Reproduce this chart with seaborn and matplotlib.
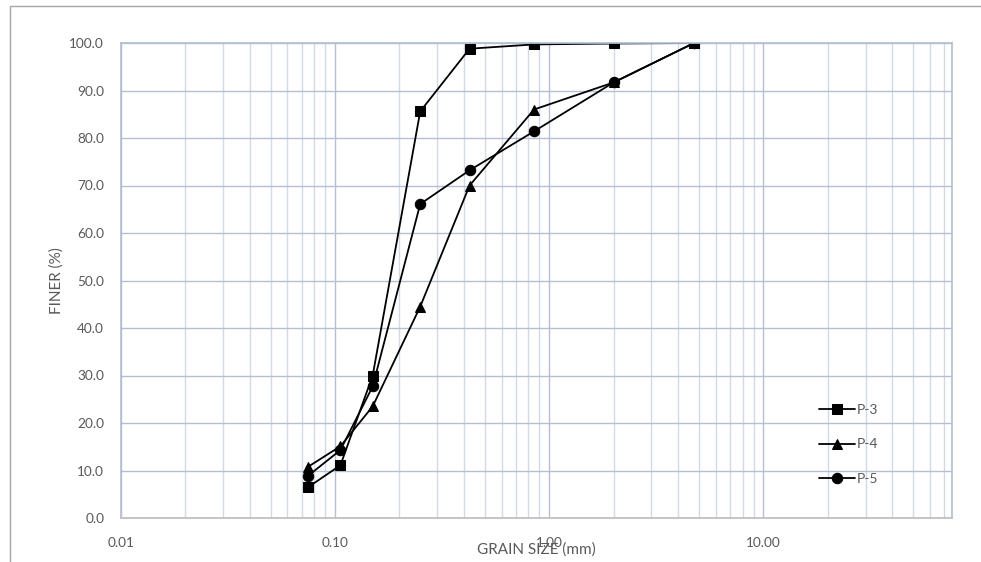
import matplotlib
matplotlib.use("Agg")
import matplotlib.pyplot as plt
import seaborn as sns
import pandas as pd
import numpy as np
from matplotlib.ticker import FixedLocator, LogLocator, NullFormatter, FuncFormatter
from matplotlib.patches import Rectangle

sizes = [0.075, 0.106, 0.15, 0.25, 0.425, 0.85, 2.0, 4.75]
p3 = [6.5, 11.1, 30.0, 85.6, 98.8, 99.7, 99.9, 100.0]
p4 = [10.8, 15.1, 23.5, 44.5, 70.0, 86.0, 91.7, 100.0]
p5 = [8.9, 14.3, 27.7, 66.1, 73.2, 81.4, 91.7, 100.0]
series_names = ["P-3", "P-4", "P-5"]
y_ticks = [0, 10, 20, 30, 40, 50, 60, 70, 80, 90, 100]
x_major = [0.01, 0.1, 1.0, 10.0]

df = pd.concat([
    pd.DataFrame({"size": sizes, "finer": v, "sample": n})
    for n, v in zip(series_names, [p3, p4, p5])
], ignore_index=True)

sns.set_theme(style="white")
plt.rcParams['font.family'] = ['Lato', 'DejaVu Sans']

fig = plt.figure(figsize=(9.81, 5.62), dpi=100)
ax = fig.add_axes([120.8/981, 1-518/562, (952-120.8)/981, (518-43)/562])

# outer frame
fig.patches.append(Rectangle((10/981, -0.1), 1.2, 1-6/562+0.1, transform=fig.transFigure,
                             fill=False, edgecolor="#a6a6a6", linewidth=1.0))

sns.lineplot(data=df, x="size", y="finer", style="sample", markers=["s", "^", "o"],
             dashes=False, color="black", sort=False, linewidth=1.3,
             markersize=7.5, markeredgecolor="black", ax=ax)

ax.set_xscale("log")
ax.set_xlim(0.01, 76)
ax.set_ylim(0, 100)
ax.set_yticks(y_ticks)
ax.yaxis.set_major_formatter(FuncFormatter(lambda v, p: f"{v:.1f}"))
ax.xaxis.set_major_locator(FixedLocator(x_major))
ax.xaxis.set_major_formatter(FuncFormatter(lambda v, p: f"{v:.2f}"))
ax.xaxis.set_minor_locator(LogLocator(base=10, subs=np.arange(2, 10), numticks=20))
ax.xaxis.set_minor_formatter(NullFormatter())

ax.grid(True, which="major", axis="both", color="#b4bfd3", linewidth=1.0)
ax.grid(True, which="minor", axis="x", color="#d3d9e5", linewidth=1.0)
ax.set_axisbelow(True)
ax.tick_params(axis="both", which="both", length=0, labelsize=9.8, labelcolor="#595959")
ax.tick_params(axis="x", pad=14)
ax.tick_params(axis="y", pad=12)
for s in ["top", "right", "left"]:
    ax.spines[s].set_color("#b4bfd3")
ax.spines["bottom"].set_color("#bfbfbf")

ax.set_xlabel("GRAIN SIZE (mm)", fontsize=11, color="#595959", labelpad=-5)
ax.set_ylabel("FINER (%)", fontsize=11, color="#595959", labelpad=4)

handles, labels = ax.get_legend_handles_labels()
leg = ax.legend(handles, labels, loc="center left", bbox_to_anchor=(806/981, 1-444.5/562),
                bbox_transform=fig.transFigure, frameon=False, fontsize=10,
                handlelength=2.6, labelspacing=1.62, handletextpad=0.15)
for t in leg.get_texts():
    t.set_color("#595959")

fig.savefig("out.png", dpi=100)
